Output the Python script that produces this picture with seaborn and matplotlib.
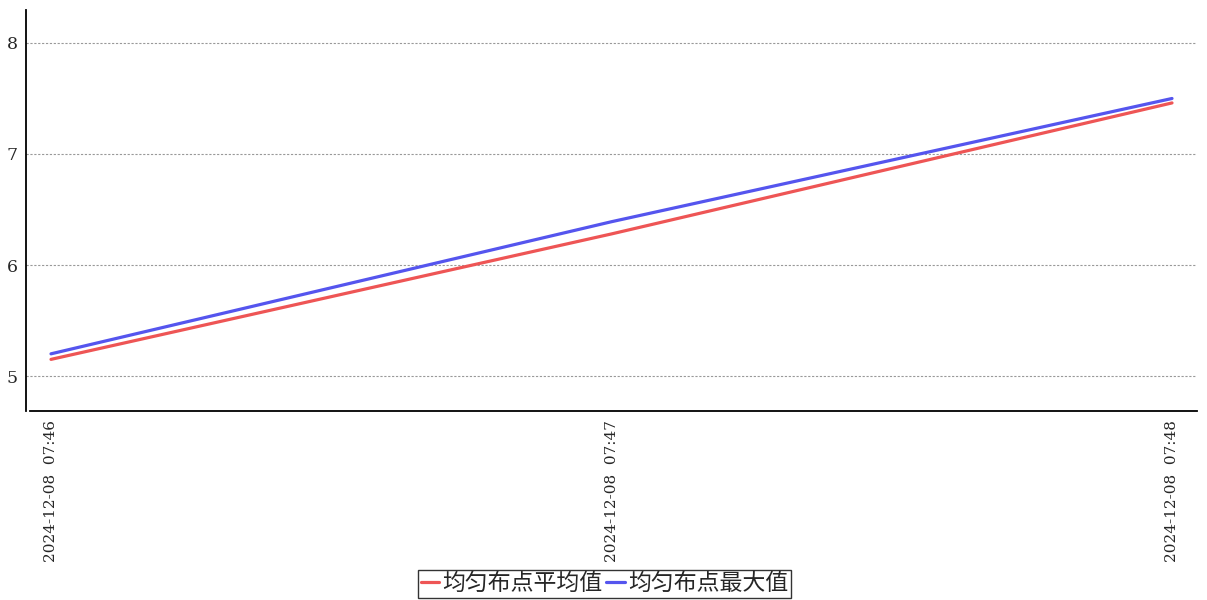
import seaborn as sns
import pandas as pd
import matplotlib.pyplot as plt
import matplotlib.dates as mdates

# chart values
times = ['2024-12-08 07:46', '2024-12-08 07:47', '2024-12-08 07:48']
avg_vals = [5.15, 6.28, 7.46]
max_vals = [5.20, 6.39, 7.50]
series_names = ['均匀布点平均值', '均匀布点最大值']
colors = ['#EE5555', '#5555EE']

df = pd.DataFrame({'time': pd.to_datetime(times),
                   series_names[0]: avg_vals,
                   series_names[1]: max_vals})
long_df = df.melt(id_vars='time', var_name='series', value_name='value')

sns.set_style('white')
plt.rcParams['font.family'] = ['DejaVu Serif', 'Noto Sans CJK SC']

fig = plt.figure(figsize=(12.07, 6.0), dpi=100)
ax = fig.add_axes([26 / 1207, 189 / 600, 1171 / 1207, 401 / 600])

sns.lineplot(data=long_df, x='time', y='value', hue='series',
             palette=colors, linewidth=2.3, ax=ax)

# axis limits
t0 = mdates.date2num(pd.Timestamp(times[0]))
step = mdates.date2num(pd.Timestamp(times[1])) - t0
ax.set_xlim(t0 - step * 25 / 560.5, t0 + step * (2 + 25 / 560.5))
ax.set_ylim(4.685, 8.297)
ax.set_yticks([5, 6, 7, 8])
ax.set_xticks(pd.to_datetime(times))
ax.xaxis.set_major_formatter(mdates.DateFormatter('%Y-%m-%d  %H:%M'))
ax.tick_params(axis='x', rotation=90, labelsize=11, length=3, color='#888888')
ax.tick_params(axis='y', labelsize=12.5, length=0, pad=6)

ax.grid(axis='y', color='#999999', linestyle='--', linewidth=0.8, dashes=(2, 1.5))
ax.set_axisbelow(True)
for s in ['top', 'right']:
    ax.spines[s].set_visible(False)
ax.spines['left'].set_color('black')
ax.spines['bottom'].set_color('black')
ax.spines['left'].set_linewidth(1.3)
ax.spines['bottom'].set_linewidth(1.3)
ax.spines['bottom'].set_bounds(t0 - step * 21 / 560.5, t0 + step * (2 + 25 / 560.5))
ax.set_xlabel('')
ax.set_ylabel('')

leg = ax.legend(loc='lower center', bbox_to_anchor=(0.5 - 7 / 1171, -189 / 401 + 2 / 401),
                ncol=2, frameon=True, fancybox=False,
                handlelength=0.8, handletextpad=0.15, columnspacing=0.15,
                borderpad=0.12, borderaxespad=0,
                prop={'family': ['Noto Sans CJK SC'], 'size': 16.5})
leg.get_frame().set_edgecolor('black')
leg.get_frame().set_linewidth(1.0)

fig.savefig('out.png', dpi=100)
